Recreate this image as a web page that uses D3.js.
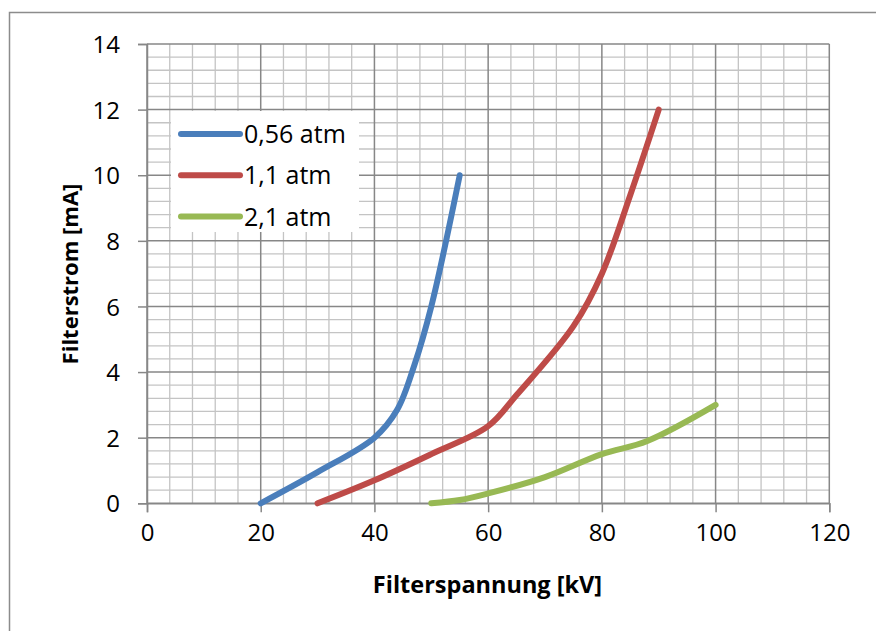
<!DOCTYPE html>
<html><head><meta charset="utf-8">
<script src="https://cdn.jsdelivr.net/npm/d3@7"></script>
<style>
html,body{margin:0;padding:0;background:#fff;}
svg{display:block;}
text{font-family:"Open Sans",sans-serif;fill:#000;}
</style></head>
<body><svg id="c" width="876" height="631"></svg>
<script>
// ---- data ----
const seriesNames = ["0,56 atm", "1,1 atm", "2,1 atm"];
const seriesColors = ["#4a7ebb", "#be4b48", "#98b954"];
const voltage056 = [20, 30, 40, 44, 47, 50, 55];
const current056 = [0, 0.95, 2, 2.85, 4.2, 6.0, 10];
const voltage11 = [30, 40, 50, 60, 65, 75, 80, 85, 90];
const current11 = [0, 0.7, 1.5, 2.35, 3.3, 5.4, 7, 9.4, 12];
const voltage21 = [50, 55, 60, 70, 80, 88, 100];
const current21 = [0, 0.1, 0.3, 0.8, 1.5, 1.9, 3];
const xTicks = [0, 20, 40, 60, 80, 100, 120];
const yTicks = [0, 2, 4, 6, 8, 10, 12, 14];
const xTitle = "Filterspannung [kV]";
const yTitle = "Filterstrom [mA]";

const svg = d3.select("#c");
const L = 147, R = 829.3, T = 44, B = 503.3;
const x = d3.scaleLinear().domain([0, 120]).range([L, R]);
const y = d3.scaleLinear().domain([0, 14]).range([B, T]);

// outer frame
svg.append("path").attr("d", `M9.5,631 V12.5 H876`).attr("fill", "none")
  .attr("stroke", "#8c8c8c").attr("stroke-width", 1.5);

const minorC = "#c4c4c4", majorC = "#878787";
const g = svg.append("g");
// minor grid
d3.range(0, 120.01, 4).filter(v => v % 20 !== 0).forEach(v => {
  g.append("line").attr("x1", x(v)).attr("x2", x(v)).attr("y1", y(0)).attr("y2", y(14))
    .attr("stroke", minorC).attr("stroke-width", 1.3);
});
d3.range(0, 14.01, 0.4).filter(v => Math.abs(v / 2 - Math.round(v / 2)) > 1e-6).forEach(v => {
  g.append("line").attr("y1", y(v)).attr("y2", y(v)).attr("x1", x(0)).attr("x2", x(120))
    .attr("stroke", minorC).attr("stroke-width", 1.3);
});
// major grid
xTicks.forEach(v => {
  g.append("line").attr("x1", x(v)).attr("x2", x(v)).attr("y1", y(0)).attr("y2", y(14))
    .attr("stroke", majorC).attr("stroke-width", 1.5);
});
yTicks.forEach(v => {
  g.append("line").attr("y1", y(v)).attr("y2", y(v)).attr("x1", x(0)).attr("x2", x(120))
    .attr("stroke", majorC).attr("stroke-width", 1.5);
});

// axes
const xAxis = d3.axisBottom(x).tickValues(xTicks).tickSize(9).tickPadding(12).tickFormat(d3.format("d"));
const yAxis = d3.axisLeft(y).tickValues(yTicks).tickSize(9).tickPadding(18).tickFormat(d3.format("d"));
const gx = svg.append("g").attr("transform", `translate(0,${B})`).call(xAxis);
const gy = svg.append("g").attr("transform", `translate(${L},0)`).call(yAxis);
[gx, gy].forEach(a => {
  a.select(".domain").attr("stroke", majorC).attr("stroke-width", 1.5);
  a.selectAll(".tick line").attr("stroke", majorC).attr("stroke-width", 1.5);
  a.selectAll(".tick text").attr("font-family", "Open Sans").attr("font-size", 24).attr("fill", "#000");
});
gy.selectAll(".tick text").attr("dy", "0.36em");

// series
const data = [
  voltage056.map((v, i) => [v, current056[i]]),
  voltage11.map((v, i) => [v, current11[i]]),
  voltage21.map((v, i) => [v, current21[i]])
];
const line = d3.line().x(d => x(d[0])).y(d => y(d[1])).curve(d3.curveCatmullRom.alpha(0.5));
data.forEach((d, i) => {
  svg.append("path").attr("d", line(d)).attr("fill", "none")
    .attr("stroke", seriesColors[i]).attr("stroke-width", 6)
    .attr("stroke-linecap", "round").attr("stroke-linejoin", "round");
});

// legend
const lg = svg.append("g");
lg.append("rect").attr("x", 171).attr("y", 111).attr("width", 188).attr("height", 121).attr("fill", "#fff");
seriesNames.forEach((n, i) => {
  const yy = 134 + i * 41.3;
  lg.append("line").attr("x1", 181).attr("x2", 240).attr("y1", yy).attr("y2", yy)
    .attr("stroke", seriesColors[i]).attr("stroke-width", 6).attr("stroke-linecap", "round");
  lg.append("text").attr("x", 244).attr("y", yy).attr("dy", "0.36em")
    .attr("font-size", 25).text(n);
});

// titles
svg.append("text").attr("x", 487.5).attr("y", 593).attr("text-anchor", "middle")
  .attr("font-weight", "bold").attr("font-size", 23.5).text(xTitle);
svg.append("text").attr("transform", "translate(78,274) rotate(-90)").attr("text-anchor", "middle")
  .attr("font-weight", "bold").attr("font-size", 22).text(yTitle);
</script></body></html>
